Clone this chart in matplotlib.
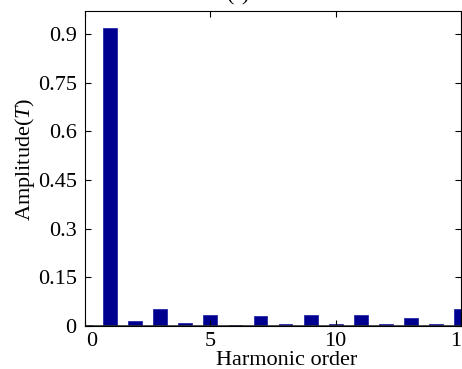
import numpy as np
import matplotlib.pyplot as plt
import matplotlib.transforms as mtransforms

plt.rcParams['font.family'] = ['Liberation Serif', 'DejaVu Serif']
plt.rcParams['mathtext.fontset'] = 'custom'
plt.rcParams['mathtext.it'] = 'Liberation Serif:italic'
plt.rcParams['mathtext.rm'] = 'Liberation Serif'

orders = np.arange(0, 16)
amplitude = [0.003, 0.92, 0.016, 0.053, 0.009, 0.035, 0.003, 0.030,
             0.007, 0.035, 0.007, 0.033, 0.007, 0.024, 0.007, 0.052]
yticks = [0, 0.15, 0.3, 0.45, 0.6, 0.75, 0.9]
ytick_labels = ["0", "0.15", "0.3", "0.45", "0.6", "0.75", "0.9"]
xticks = [0, 5, 10, 15]

fig = plt.figure(figsize=(4.62, 3.69), dpi=100)
ax = fig.add_axes([0.184, 0.1165, 0.814, 0.854])

ax.bar(orders, amplitude, width=0.55, color='#000090', edgecolor='#2a2aa8', linewidth=0.6)
ax.axhline(0, color='#333333', linewidth=1.2)

ax.set_xlim(0, 15)
ax.set_ylim(0, 0.972)
ax.set_xticks(xticks)
ax.set_xticklabels([str(t) for t in xticks])
ax.set_yticks(yticks)
ax.set_yticklabels(ytick_labels)
ax.tick_params(direction='in', top=True, right=True, labelsize=16, length=4, pad=6)
ax.tick_params(axis='x', pad=4)

# the "0" label sits a little to the right in the original
lbl0 = ax.get_xticklabels()[0]
lbl0.set_transform(lbl0.get_transform() + mtransforms.ScaledTranslation(7 / 100, 0, fig.dpi_scale_trans))

ax.set_xlabel("Harmonic order", fontsize=16, labelpad=0)
ax.xaxis.set_label_coords(0.537, -0.078)
ax.set_ylabel("Amplitude($T$)", fontsize=16)
ax.yaxis.set_label_coords(-0.128, 0.53)

fig.text(0.515, 1 - 5 / 369, "(f)", fontsize=16, ha='center', va='bottom')

fig.savefig("out.png", dpi=100)
